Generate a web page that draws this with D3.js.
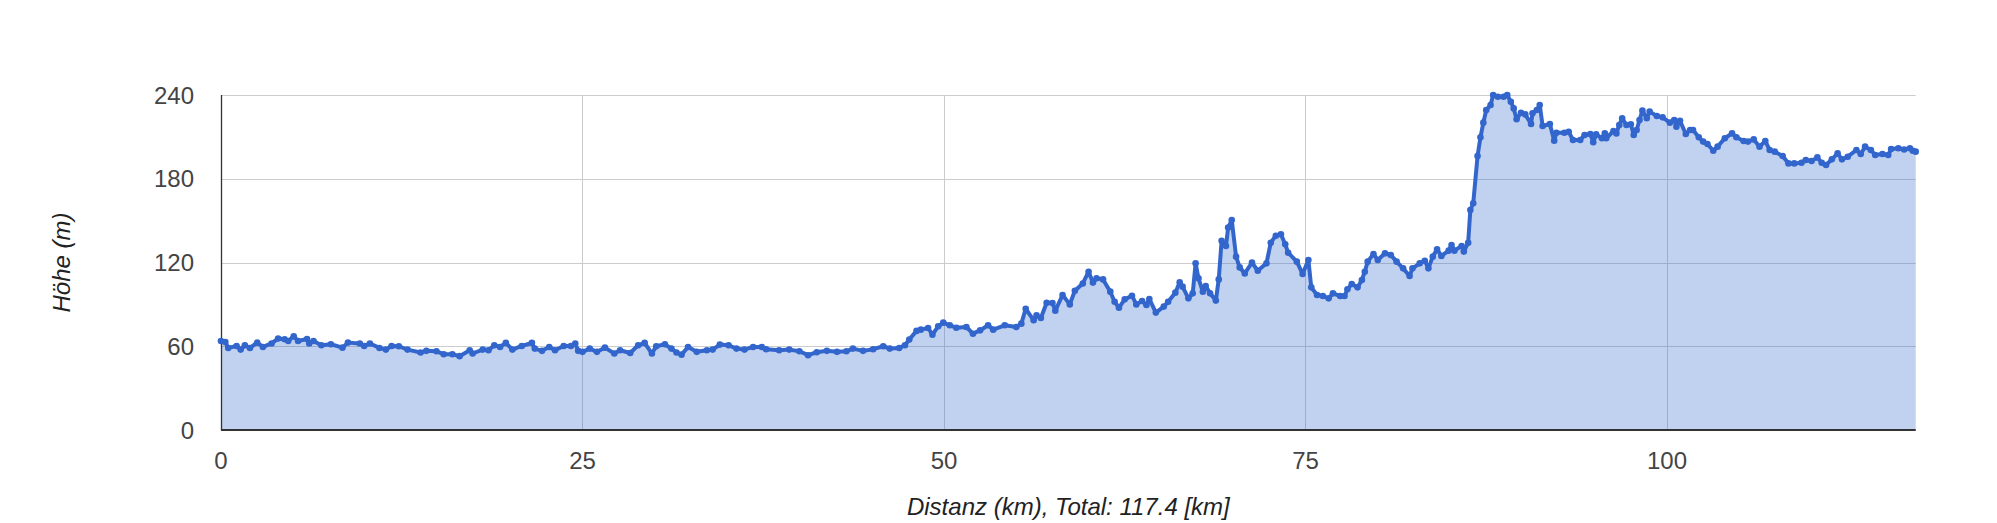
<!DOCTYPE html>
<html>
<head>
<meta charset="utf-8">
<script src="https://cdn.jsdelivr.net/npm/d3@7"></script>
<style>
body{margin:0;background:#fff}
text{font-family:Arial,"Liberation Sans",sans-serif}
</style>
</head>
<body>
<div id="chart"></div>
<script>
var distKm=[0,0.3,0.5,1.08,1.36,1.65,2.0,2.5,2.9,3.5,3.95,4.4,4.65,5.03,5.33,5.95,6.1,6.4,6.94,7.6,8.4,8.78,9.6,9.9,10.3,10.96,11.4,11.8,12.3,12.9,13.8,14.2,14.9,15.4,16.0,16.5,17.2,17.4,18.1,18.5,18.9,19.3,19.7,20.15,20.8,21.5,21.7,22.2,22.7,23.1,23.7,24.2,24.5,24.7,25.0,25.5,26.0,26.55,27.2,27.6,28.3,28.85,29.3,29.8,30.1,30.7,31.15,31.5,31.85,32.3,32.9,33.6,34.0,34.5,35.1,35.65,36.2,36.8,37.4,37.7,38.6,39.3,40.0,40.6,41.2,41.9,42.6,43.25,43.7,44.4,45.1,45.8,46.25,46.9,47.3,47.6,48.1,48.4,48.9,49.2,49.6,49.95,50.4,50.85,51.55,52.0,52.5,53.05,53.4,54.2,55.0,55.35,55.65,56.2,56.4,56.7,57.1,57.5,57.7,58.2,58.7,59.05,59.6,60.0,60.3,60.55,61.0,61.5,61.8,62.1,62.5,63.0,63.3,63.7,64.0,64.2,64.65,65.2,65.5,66.0,66.3,66.5,66.9,67.2,67.4,67.6,67.9,68.1,68.4,68.8,69.0,69.2,69.5,69.65,69.9,70.2,70.45,70.8,71.3,71.7,72.3,72.6,72.95,73.3,73.6,73.8,74.4,74.8,75.2,75.4,75.8,76.2,76.6,76.9,77.4,77.7,77.9,78.2,78.6,78.9,79.1,79.3,79.7,80.0,80.5,80.9,81.3,81.75,82.2,82.4,82.9,83.25,83.5,83.8,84.1,84.4,84.9,85.1,85.3,85.8,85.95,86.25,86.4,86.6,86.9,87.1,87.3,87.5,87.8,87.98,88.3,88.7,88.95,89.2,89.4,89.6,89.9,90.2,90.6,90.7,91.0,91.2,91.4,91.9,92.2,92.35,92.9,93.2,93.5,94.0,94.3,94.7,94.9,95.1,95.5,95.7,95.8,96.3,96.5,96.7,96.9,97.2,97.5,97.7,97.9,98.1,98.3,98.6,98.8,99.3,99.7,100.2,100.5,100.65,100.9,101.3,101.6,101.8,102.2,102.5,102.8,103.2,103.5,104.0,104.5,104.8,105.3,105.6,106.0,106.4,106.8,107.1,107.45,108.0,108.4,108.8,109.3,109.6,110.0,110.4,110.7,111.0,111.4,111.8,112.1,112.5,113.1,113.4,113.7,114.1,114.4,114.9,115.3,115.5,116.0,116.4,116.8,117.0,117.2]
var elevM=[63.8,63,58.8,60.2,57.6,60.7,58.8,62.6,59.5,62,65.5,65,63.8,67.1,63.8,65.2,62,63.8,60.7,61.4,59,62.6,62,60.2,62,58.8,57.6,60.2,60,57.6,55.5,56.7,56.4,54.3,54.3,52.9,57.1,54.8,57.6,57.1,60.7,59.5,62.4,57.6,60.2,62.4,58.3,56.7,59.5,57.1,60.2,60.2,62,56.7,56,58.3,56,59,54.8,57.1,55.2,60.7,62.4,54.8,60,61.4,58.3,55.5,54,59.5,56,57.1,57.6,61.2,60.7,58.3,57.6,59.5,59.5,57.9,57.1,57.6,56.4,53.6,55.7,56.7,56,56.4,58.3,56.7,57.9,60,58.3,58.8,60.7,64.8,71,71.9,73.1,68.3,74.3,76.9,75,73.3,73.8,69,71.4,75,71.9,75,73.8,76.2,86.9,78.6,82.1,80.2,91.2,91,85.5,96.7,90,99.8,105,113.4,105.6,108.7,107.9,99.1,91.9,87.6,93.6,96.2,90,92.4,89.5,93.9,84.1,88.4,91.9,98.4,105.8,102.7,94.3,97.9,119.4,108.7,99.1,103.2,97.9,92.7,107.9,135.6,131.8,145,150.4,124.2,116.5,112.2,119.9,114.1,119.4,134.2,139.2,140.2,133,127,120.6,111.8,121.8,102.2,96.7,96,94.3,97.9,96,96,100.8,104.6,102.2,107.5,113.4,120.6,126.1,121.8,126.6,125.4,120.6,115.8,110.3,115.8,119.4,121.3,115.8,124.2,129.4,124.7,128.5,132.5,128.5,131.8,127.8,134.2,157.6,162.4,196.3,209.7,220.2,229.3,232.8,240,238.8,238.8,240,235.2,230.4,222.6,227.3,226.1,219.2,226.9,229.3,232.8,217.8,219.2,207.3,213,213,213.7,207.8,207.8,211.3,212.1,206.1,211.8,209,212.5,209,214.2,212.5,218.5,223.3,218.5,219,211.3,214.9,222.1,228.8,223.3,228.1,225,224,220.2,222.1,217.3,221.6,212.1,214.9,214.9,209.7,206.6,204.9,200.1,203,209,212.5,209.7,207,206.6,208.2,203,207,200.6,199.4,196.3,191,191,191.5,193.4,192.7,195.3,191.5,189.9,193.9,198.2,193.9,195.8,200.6,197.7,203,200.6,197,197.7,197,201.3,201.8,201,201.8,200.1,199.4]
var yTicks=[0,60,120,180,240]
var xTicks=[0,25,50,75,100]
var xTitle="Distanz (km), Total: 117.4 [km]"
var yTitle="Höhe (m)"

function drawProfile(){
	var width=1997, height=523
	var left=221, right=1915.7, top=95, bottom=430
	var points=distKm.map(function(d,i){return {x:d,y:elevM[i]}})

	var svg=d3.select("#chart").append("svg").attr("width",width).attr("height",height)

	var x=d3.scaleLinear().domain(d3.extent(distKm)).range([left,right])
	var y=d3.scaleLinear().domain([0,240]).range([bottom,top])

	// grid
	var grid=svg.append("g").attr("stroke","#cccccc").attr("stroke-width",1)
	grid.selectAll("line.h").data(yTicks).enter().append("line")
		.attr("x1",left).attr("x2",right)
		.attr("y1",function(d){return Math.round(y(d))+0.5})
		.attr("y2",function(d){return Math.round(y(d))+0.5})
	grid.selectAll("line.v").data(xTicks.slice(1)).enter().append("line")
		.attr("y1",top).attr("y2",bottom)
		.attr("x1",function(d){return Math.round(x(d))+0.5})
		.attr("x2",function(d){return Math.round(x(d))+0.5})

	var area=d3.area().x(function(d){return x(d.x)}).y0(y(0)).y1(function(d){return y(d.y)})
	svg.append("path").datum(points).attr("d",area).attr("fill","#3366cc").attr("fill-opacity",0.3)

	// baselines
	svg.append("line").attr("x1",left).attr("x2",right).attr("y1",bottom).attr("y2",bottom)
		.attr("stroke","#333333").attr("stroke-width",2)
	svg.append("line").attr("x1",left+0.5).attr("x2",left+0.5).attr("y1",top).attr("y2",bottom)
		.attr("stroke","#333333").attr("stroke-width",1.3)

	var line=d3.line().x(function(d){return x(d.x)}).y(function(d){return y(d.y)})
	svg.append("path").datum(points).attr("d",line).attr("fill","none")
		.attr("stroke","#3366cc").attr("stroke-width",4).attr("stroke-linejoin","round")
	svg.append("g").selectAll("circle").data(points).enter().append("circle")
		.attr("cx",function(d){return x(d.x)}).attr("cy",function(d){return y(d.y)})
		.attr("r",3.3).attr("fill","#3366cc")

	// tick labels
	svg.append("g").selectAll("text").data(yTicks).enter().append("text")
		.attr("x",194).attr("y",function(d){return y(d)}).attr("dy","0.36em")
		.attr("text-anchor","end").attr("font-size",24).attr("fill","#444444")
		.text(function(d){return d})
	svg.append("g").selectAll("text").data(xTicks).enter().append("text")
		.attr("x",function(d){return x(d)}).attr("y",469)
		.attr("text-anchor","middle").attr("font-size",24).attr("fill","#444444")
		.text(function(d){return d})

	svg.append("text").attr("x",(left+right)/2).attr("y",515)
		.attr("text-anchor","middle").attr("font-size",24).attr("font-style","italic").attr("fill","#222222")
		.text(xTitle)
	svg.append("text").attr("transform","translate(70,"+((top+bottom)/2)+") rotate(-90)")
		.attr("text-anchor","middle").attr("font-size",24).attr("font-style","italic").attr("fill","#222222")
		.text(yTitle)
}

drawProfile()
</script>
</body>
</html>
